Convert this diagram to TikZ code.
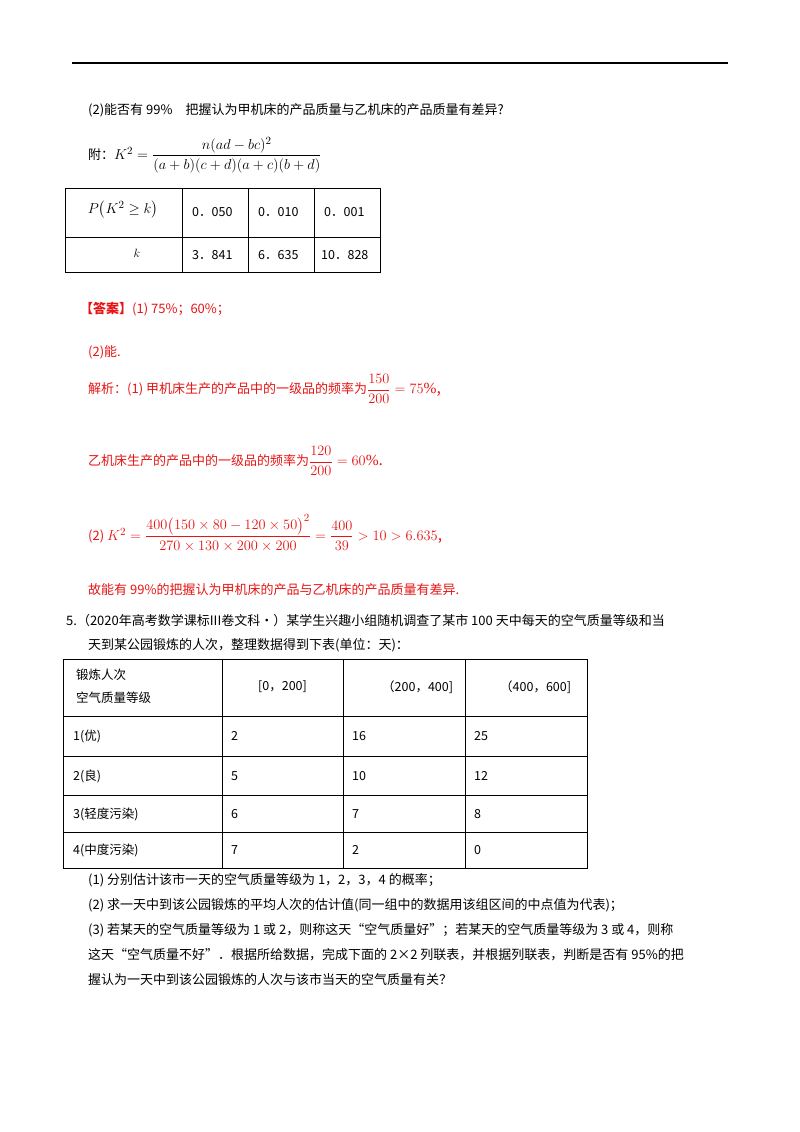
\documentclass[tikz,border=0pt]{standalone}
\usepackage{amsmath}
\usepackage{fontspec}
\setmainfont{Liberation Serif}
\newfontfamily\cjk{Noto Sans CJK SC}
\definecolor{ansred}{RGB}{230,20,20}
\begin{document}
\begin{tikzpicture}[x=1pt,y=-1pt,
  txt/.style={anchor=west,inner sep=0pt,font=\cjk\fontsize{13}{15}\selectfont},
  red/.style={txt,text=ansred},
  cell/.style={anchor=west,inner sep=0pt,font=\cjk\fontsize{12.5}{15}\selectfont},
  grid/.style={line width=0.8pt}]
\useasboundingbox (0,0) rectangle (800,1132);
\draw[line width=1.2pt] (72,63) -- (728,63);
\node[txt] (l1) at (88,110) {(2)能否有 99\%\quad 把握认为甲机床的产品质量与乙机床的产品质量有差异?};
\node[txt] (l2) at (88,155) {附：\fontsize{15.5}{18}\selectfont$K^2=\dfrac{n(ad-bc)^2}{(a+b)(c+d)(a+c)(b+d)}$};
% table 1
\draw[grid] (65,188) rectangle (380,272);
\draw[grid] (65,237) -- (380,237);
\foreach \x in {182,248,314} \draw[grid] (\x,188) -- (\x,272);
\node (p) at (123,210) {\fontsize{15}{17}\selectfont$P\bigl(K^2\ge k\bigr)$};
\node (k) at (137,253) {\fontsize{13}{15}\selectfont$k$};
\node[cell] (a1) at (192,212) {0．050};
\node[cell] (a2) at (258,212) {0．010};
\node[cell] (a3) at (324,212) {0．001};
\node[cell] (b1) at (192,255) {3．841};
\node[cell] (b2) at (258,255) {6．635};
\node[cell] (b3) at (321,255) {10．828};
% answer
\node[red] (ans) at (80,309) {\textbf{【答案】}(1) 75\%；60\%；};
\node[red] (ans2) at (88,352) {(2)能.};
\node[red] (j1) at (88,389) {解析：(1) 甲机床生产的产品中的一级品的频率为\fontsize{15.5}{18}\selectfont$\dfrac{150}{200}=75\%$,};
\node[red] (j2) at (88,461) {乙机床生产的产品中的一级品的频率为\fontsize{15.5}{18}\selectfont$\dfrac{120}{200}=60\%$.};
\node[red] (j3) at (88,533) {(2)\ \fontsize{15.5}{18}\selectfont$K^2=\dfrac{400\bigl(150\times80-120\times50\bigr)^2}{270\times130\times200\times200}=\dfrac{400}{39}>10>6.635$,};
\node[red] (j4) at (88,590) {故能有 99\%的把握认为甲机床的产品与乙机床的产品质量有差异.};
% problem 5
\node[txt] (q1) at (66,621) {5.（2020年高考数学课标III卷文科•）某学生兴趣小组随机调查了某市 100 天中每天的空气质量等级和当};
\node[txt] (q2) at (88,645) {天到某公园锻炼的人次，整理数据得到下表(单位：天)：};
% table 2
\draw[grid] (63,659) rectangle (587,868);
\foreach \y in {716,756,795,832} \draw[grid] (63,\y) -- (587,\y);
\foreach \x in {222,343,465} \draw[grid] (\x,659) -- (\x,868);
\node[cell] (h1) at (76,675) {锻炼人次};
\node[cell] (h2) at (76,698) {空气质量等级};
\node[cell] (h3) at (258,687) {[0，200]};
\node[cell] (h4) at (382,687) {（200，400]};
\node[cell] (h5) at (500,687) {（400，600]};
\node[cell] (r1) at (73,736) {1(优)};
\node[cell] (r2) at (73,776) {2(良)};
\node[cell] (r3) at (73,814) {3(轻度污染)};
\node[cell] (r4) at (73,850) {4(中度污染)};
\node[cell] (c11) at (231,736) {2};
\node[cell] (c12) at (352,736) {16};
\node[cell] (c13) at (474,736) {25};
\node[cell] (c21) at (231,776) {5};
\node[cell] (c22) at (352,776) {10};
\node[cell] (c23) at (474,776) {12};
\node[cell] (c31) at (231,814) {6};
\node[cell] (c32) at (352,814) {7};
\node[cell] (c33) at (474,814) {8};
\node[cell] (c41) at (231,850) {7};
\node[cell] (c42) at (352,850) {2};
\node[cell] (c43) at (474,850) {0};
\node[txt] (s1) at (88,880) {(1) 分别估计该市一天的空气质量等级为 1，2，3，4 的概率；};
\node[txt] (s2) at (88,905) {(2) 求一天中到该公园锻炼的平均人次的估计值(同一组中的数据用该组区间的中点值为代表)；};
\node[txt] (s3) at (88,930) {(3) 若某天的空气质量等级为 1 或 2，则称这天“空气质量好”；若某天的空气质量等级为 3 或 4，则称};
\node[txt] (s4) at (88,955) {这天“空气质量不好”．根据所给数据，完成下面的 2×2 列联表，并根据列联表，判断是否有 95\%的把};
\node[txt] (s5) at (88,980) {握认为一天中到该公园锻炼的人次与该市当天的空气质量有关？};
\end{tikzpicture}
\end{document}
